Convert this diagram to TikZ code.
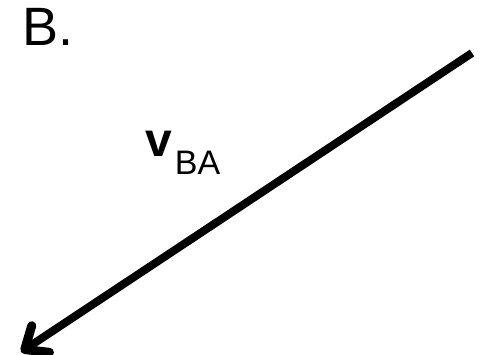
\documentclass[tikz,border=0pt]{standalone}
\usepackage{fontspec}
\setmainfont{Liberation Sans}
\usetikzlibrary{arrows.meta}
\begin{document}
\begin{tikzpicture}[x=1pt,y=-1pt,
  vec/.style={line width=8pt,-{Straight Barb[length=19pt,width=32pt,line width=9pt,round]}},
  lbl/.style={inner sep=0pt,anchor=base west}]
\useasboundingbox (0,0) rectangle (483,355);
\node[lbl,font=\fontsize{54}{60}\selectfont] (title) at (22,46) {B.};
\coordinate (start) at (472,53);
\coordinate (tip) at (21,352);
\draw[vec] (start) -- (tip);
\node[lbl] (label) at (145,157) {\fontsize{48}{52}\selectfont\bfseries v\hspace{3pt}\raisebox{-18pt}{\fontsize{34}{36}\selectfont\mdseries BA}};
\end{tikzpicture}
\end{document}
